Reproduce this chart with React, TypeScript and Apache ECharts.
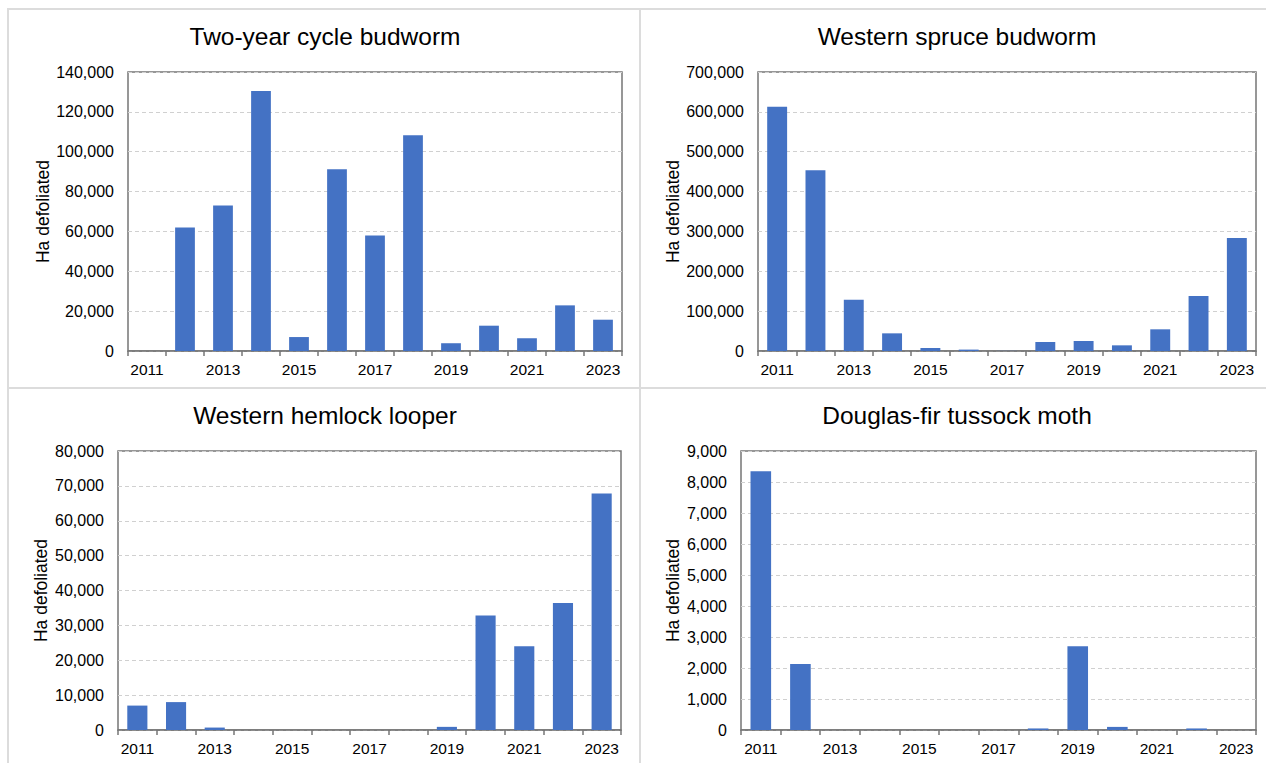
import React, { useEffect, useRef } from "react";
import * as echarts from "echarts";

const years = ["2011", "2012", "2013", "2014", "2015", "2016", "2017", "2018", "2019", "2020", "2021", "2022", "2023"];

const twoYearCycleBudworm = [0, 62000, 73000, 130500, 7000, 91200, 58000, 108200, 3900, 12700, 6400, 22900, 15700];
const westernSpruceBudworm = [613000, 453500, 128800, 44300, 7500, 3500, 300, 22600, 25100, 14200, 54400, 138000, 283500];
const westernHemlockLooper = [7000, 8000, 700, 0, 0, 0, 0, 0, 900, 32800, 24000, 36400, 67800];
const douglasFirTussockMoth = [8350, 2130, 0, 0, 0, 0, 0, 50, 2700, 100, 0, 50, 0];

const panelTitles = ["Two-year cycle budworm", "Western spruce budworm", "Western hemlock looper", "Douglas-fir tussock moth"];
const yAxisName = "Ha defoliated";
const yMax = [140000, 700000, 80000, 9000];
const yInterval = [20000, 100000, 10000, 1000];

const FONT = "Liberation Sans, Arial, sans-serif";
const BAR = "#4472C4";
const FRAME = "#767676";
const SEP = "#dcdcdc";

export default function App() {
  const ref = useRef<HTMLDivElement>(null);
  useEffect(() => {
    if (!ref.current) return;
    const chart = echarts.init(ref.current, null, { renderer: "svg" });
    const seriesData = [twoYearCycleBudworm, westernSpruceBudworm, westernHemlockLooper, douglasFirTussockMoth];
    const grids = [
      { left: 128, top: 72, width: 494, height: 279 },
      { left: 758, top: 72, width: 498, height: 279 },
      { left: 118, top: 451, width: 503, height: 279 },
      { left: 741, top: 451, width: 515, height: 279 },
    ];
    const titlePos = [
      { x: 325, y: 24 },
      { x: 957, y: 24 },
      { x: 325, y: 403 },
      { x: 957, y: 403 },
    ];
    const nameGaps = [76, 76, 68, 59];
    const fmt = (v: number) => v.toLocaleString("en-US");

    chart.setOption({
      animation: false,
      backgroundColor: "#ffffff",
      textStyle: { fontFamily: FONT },
      title: panelTitles.map((t, i) => ({
        text: t,
        left: titlePos[i].x,
        top: titlePos[i].y,
        padding: 0,
        textAlign: "center",
        textStyle: { fontSize: 24.5, fontWeight: "normal", color: "#000", fontFamily: FONT },
      })),
      grid: grids.map((g) => ({
        ...g,
        show: true,
        borderColor: FRAME,
        borderWidth: 1.5,
        backgroundColor: "transparent",
        containLabel: false,
      })),
      xAxis: grids.map((_, i) => ({
        type: "category",
        gridIndex: i,
        data: years,
        boundaryGap: true,
        axisLine: { show: true, lineStyle: { color: FRAME, width: 1.5 } },
        axisTick: { show: true, interval: 0, length: 5, lineStyle: { color: FRAME, width: 1.5 } },
        axisLabel: { interval: 1, fontSize: 15.5, color: "#000", margin: 10, fontFamily: FONT },
      })),
      yAxis: grids.map((_, i) => ({
        type: "value",
        gridIndex: i,
        min: 0,
        max: yMax[i],
        interval: yInterval[i],
        name: yAxisName,
        nameLocation: "middle",
        nameGap: nameGaps[i],
        nameRotate: 90,
        nameTextStyle: { fontSize: 17.5, color: "#000", fontFamily: FONT },
        axisLine: { show: false },
        axisTick: { show: false },
        axisLabel: { fontSize: 16, color: "#000", margin: 14, formatter: fmt, fontFamily: FONT },
        splitLine: { show: true, lineStyle: { color: "#d0d0d0", type: [4, 3], width: 1 } },
      })),
      series: seriesData.map((d, i) => ({
        type: "bar",
        xAxisIndex: i,
        yAxisIndex: i,
        data: d,
        barCategoryGap: "48%",
        itemStyle: { color: BAR },
      })),
      graphic: [
        { type: "line", shape: { x1: 7, y1: 9, x2: 1266, y2: 9 }, style: { stroke: SEP, lineWidth: 2 } },
        { type: "line", shape: { x1: 8, y1: 8, x2: 8, y2: 763 }, style: { stroke: SEP, lineWidth: 2 } },
        { type: "line", shape: { x1: 640, y1: 8, x2: 640, y2: 763 }, style: { stroke: SEP, lineWidth: 2 } },
        { type: "line", shape: { x1: 7, y1: 388, x2: 1266, y2: 388 }, style: { stroke: SEP, lineWidth: 2 } },
      ],
    });
    return () => chart.dispose();
  }, []);
  return (
    <div
      ref={ref}
      style={{ position: "fixed", left: 0, top: 0, width: 1266, height: 763, background: "#fff" }}
    />
  );
}
